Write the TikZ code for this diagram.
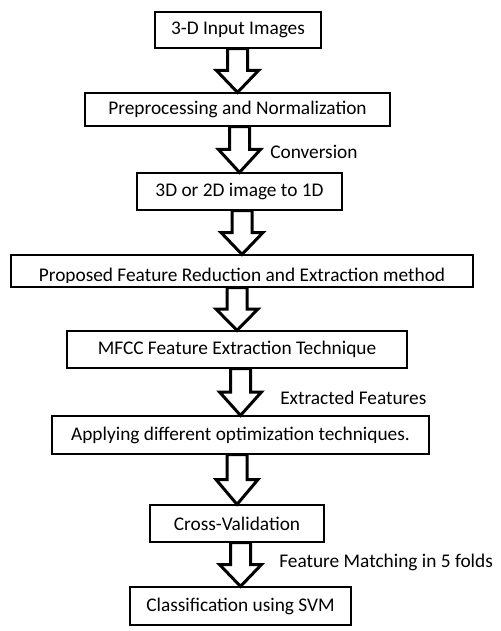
\documentclass[tikz,border=0pt]{standalone}
\usepackage{fontspec}
\setmainfont{Carlito}
\usetikzlibrary{calc}
\tikzset{
  box/.style={draw=black, line width=0.9pt, fill=white, inner sep=0pt,
    font=\fontsize{14.5}{17}\selectfont},
  lbl/.style={anchor=west, inner sep=0pt, font=\fontsize{14.5}{17}\selectfont},
  blockarrow/.style={draw=black, fill=white, line width=2.25pt, line join=miter}
}
\newcommand{\blockarr}[2]{%
  \draw[blockarrow] let \p1=(#1.south), \p2=(#2.north), \n1={0.5*\y1+0.5*\y2} in
    (\x2-7.5pt,\y1) -- (\x2+7.5pt,\y1) -- (\x2+7.5pt,\n1) -- (\x2+15.75pt,\n1)
    -- (\x2,\y2) -- (\x2-15.75pt,\n1) -- (\x2-7.5pt,\n1) -- cycle;}
\begin{document}
\begin{tikzpicture}[x=0.75pt, y=-0.75pt]
\useasboundingbox[fill=white] (0,0) rectangle (500,631);
\node[box, minimum width=124.5pt, minimum height=27pt] (b1) at (238,30) {3-D Input Images};
\node[box, minimum width=228.75pt, minimum height=24.75pt] (b2) at (237.5,109.5) {Preprocessing and Normalization};
\node[box, minimum width=153.75pt, minimum height=27.75pt] (b3) at (239.5,191.5) {3D or 2D image to 1D};
\node[box, minimum width=346.5pt, minimum height=24pt] (b4) at (242,271) {};
\begin{scope}
  \clip (11,255) rectangle (473,282.5);
  \node[inner sep=0pt, anchor=base, font=\fontsize{14.5}{17}\selectfont] (t4) at (242,281) {Proposed Feature Reduction and Extraction method};
\end{scope}
\node[box, minimum width=255pt, minimum height=27.75pt] (b5) at (237,349.5) {MFCC Feature Extraction Technique};
\node[box, minimum width=282.75pt, minimum height=28.5pt] (b6) at (240.5,435) {Applying different optimization techniques.};
\node[box, minimum width=130.5pt, minimum height=27.75pt] (b7) at (237,523.5) {Cross-Validation};
\node[box, minimum width=165.75pt, minimum height=28.5pt] (b8) at (240.5,606) {Classification using SVM};

\blockarr{b1}{b2}
\blockarr{b2}{b3}
\blockarr{b3}{b4}
\blockarr{b4}{b5}
\blockarr{b5}{b6}
\blockarr{b6}{b7}
\blockarr{b7}{b8}

\node[lbl] (l1) at (270,152) {Conversion};
\node[lbl] (l2) at (280,398) {Extracted Features};
\node[lbl] (l3) at (279,562) {Feature Matching in 5 folds};
\end{tikzpicture}
\end{document}
